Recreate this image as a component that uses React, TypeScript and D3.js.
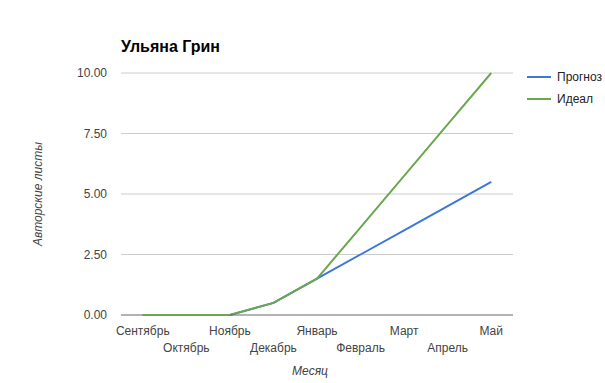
import React from "react";
import * as d3 from "d3";

const months = ["Сентябрь", "Октябрь", "Ноябрь", "Декабрь", "Январь", "Февраль", "Март", "Апрель", "Май"];
const forecast = [0, 0, 0, 0.5, 1.5, 2.5, 3.5, 4.5, 5.5];
const ideal = [0, 0, 0, 0.5, 1.5, 3.625, 5.75, 7.875, 10];
const yTicks = [0, 2.5, 5, 7.5, 10];
const seriesNames = ["Прогноз", "Идеал"];
const seriesColors = ["#3c78d8", "#6aa84f"];

const W = 605, H = 383;
const left = 121, right = 513, top = 73, bottom = 315;

export default function App() {
  const x = d3.scaleBand<string>().domain(months).range([left, right]).padding(0);
  const cx = (m: string) => (x(m) as number) + x.bandwidth() / 2;
  const y = d3.scaleLinear().domain([0, 10]).range([bottom, top]);
  const line = d3.line<number>().x((_, i) => cx(months[i])).y((d) => y(d));
  const font = "Arial, 'Liberation Sans', sans-serif";
  const series = [forecast, ideal];
  return (
    <svg width={W} height={H} style={{ position: "absolute", left: 0, top: 0, background: "#fff" }} fontFamily={font}>
      <rect width={W} height={H} fill="#fff" />
      <text x={121} y={52} fontSize={16} fontWeight="bold" fill="#000">Ульяна Грин</text>
      {yTicks.map((t) => (
        <g key={t}>
          {t !== 0 && <line x1={left} x2={right} y1={y(t)} y2={y(t)} stroke="#cccccc" strokeWidth={1} />}
          <text x={107} y={y(t) + 4} fontSize={12} fill="#444" textAnchor="end">{t.toFixed(2)}</text>
        </g>
      ))}
      {series.map((s, i) => (
        <path key={i} d={line(s) || ""} fill="none" stroke={seriesColors[i]} strokeWidth={2} />
      ))}
      <line x1={left} x2={right} y1={y(0)} y2={y(0)} stroke="#666" strokeWidth={1} />
      <path d={line(ideal.slice(0, 3)) || ""} fill="none" stroke={seriesColors[1]} strokeWidth={2} />
      {months.map((m, i) => (
        <text key={m} x={cx(m)} y={i % 2 === 0 ? 335 : 352} fontSize={12} fill="#444" textAnchor="middle">{m}</text>
      ))}
      <text x={310} y={375} fontSize={12} fontStyle="italic" fill="#444" textAnchor="middle">Месяц</text>
      <text transform={`translate(42,${(top + bottom) / 2}) rotate(-90)`} fontSize={12} fontStyle="italic" fill="#444" textAnchor="middle">Авторские листы</text>
      {seriesNames.map((n, i) => (
        <g key={n}>
          <line x1={527} x2={551} y1={77 + i * 22} y2={77 + i * 22} stroke={seriesColors[i]} strokeWidth={2} />
          <text x={557} y={81 + i * 22} fontSize={12} fill="#222">{n}</text>
        </g>
      ))}
    </svg>
  );
}
